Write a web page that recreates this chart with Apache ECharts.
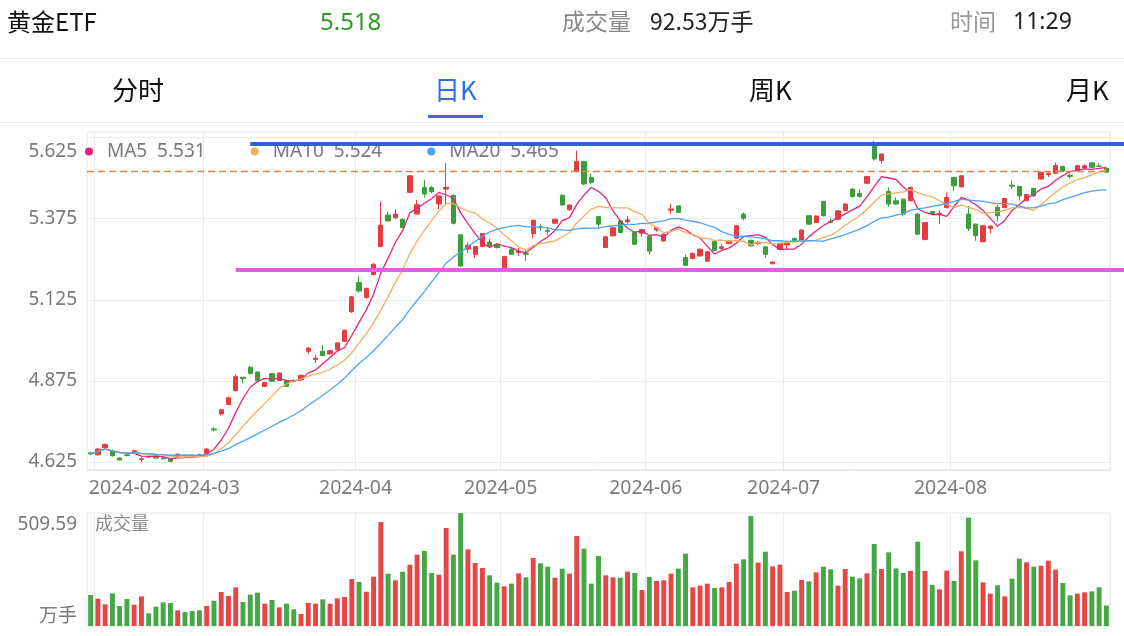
<!DOCTYPE html>
<html><head><meta charset="utf-8">
<script src="https://cdn.jsdelivr.net/npm/echarts@6/dist/echarts.min.js"></script>
<style>html,body{margin:0;padding:0;background:#fff}#c{width:1124px;height:636px}</style>
</head><body><div id="c"></div>
<script>
// ---------- data ----------
const tradingDays = {
  '2024-01': [31],
  '2024-02': [1,2,5,6,7,8,19,20,21,22,23,26,27,28,29],
  '2024-03': [1,4,5,6,7,8,11,12,13,14,15,18,19,20,21,22,25,26,27,28,29],
  '2024-04': [1,2,3,8,9,10,11,12,15,16,17,18,19,22,23,24,25,26,29,30],
  '2024-05': [6,7,8,9,10,13,14,15,16,17,20,21,22,23,24,27,28,29,30,31],
  '2024-06': [3,4,5,6,7,11,12,13,14,17,18,19,20,21,24,25,26,27,28],
  '2024-07': [1,2,3,4,5,8,9,10,11,12,15,16,17,18,19,22,23,24,25,26,29,30,31],
  '2024-08': [1,2,5,6,7,8,9,12,13,14,15,16,19,20,21,22,23,26,27,28,29,30]
};
const opens = [4.653,4.647,4.669,4.659,4.637,4.647,4.652,4.633,4.642,4.639,
 4.637,4.636,4.641,4.646,4.646,4.648,4.652,4.727,4.773,4.802,
 4.845,4.886,4.917,4.902,4.858,4.897,4.876,4.876,4.876,4.878,
 4.966,4.941,4.966,4.958,4.971,4.997,5.088,5.178,5.132,5.203,
 5.289,5.386,5.378,5.373,5.456,5.389,5.471,5.471,5.420,5.466,
 5.447,5.325,5.281,5.265,5.289,5.303,5.296,5.224,5.281,5.270,
 5.268,5.329,5.350,5.339,5.361,5.447,5.402,5.520,5.551,5.502,
 5.381,5.286,5.322,5.368,5.365,5.332,5.330,5.320,5.340,5.306,
 5.401,5.414,5.255,5.252,5.260,5.244,5.304,5.283,5.298,5.315,
 5.389,5.308,5.298,5.288,5.236,5.280,5.294,5.314,5.308,5.384,
 5.363,5.428,5.367,5.373,5.400,5.466,5.453,5.484,5.600,5.554,
 5.459,5.430,5.435,5.430,5.389,5.311,5.397,5.387,5.409,5.502,
 5.473,5.389,5.358,5.304,5.345,5.410,5.409,5.478,5.474,5.430,
 5.468,5.497,5.511,5.515,5.536,5.508,5.523,5.531,5.547,5.537,
 5.530];
const closes = [4.650,4.665,4.679,4.644,4.631,4.645,4.660,4.635,4.640,4.637,
 4.635,4.627,4.649,4.644,4.644,4.645,4.665,4.724,4.786,4.823,
 4.888,4.882,4.898,4.875,4.870,4.874,4.899,4.858,4.873,4.892,
 4.976,4.945,4.953,4.968,4.992,5.031,5.134,5.152,5.160,5.234,
 5.355,5.368,5.389,5.348,5.507,5.418,5.451,5.458,5.445,5.471,
 5.361,5.229,5.293,5.289,5.329,5.291,5.286,5.258,5.265,5.275,
 5.265,5.370,5.347,5.336,5.373,5.417,5.417,5.551,5.482,5.487,
 5.358,5.319,5.347,5.332,5.371,5.296,5.341,5.275,5.347,5.327,
 5.405,5.394,5.231,5.268,5.281,5.273,5.277,5.288,5.306,5.353,
 5.376,5.291,5.302,5.265,5.241,5.298,5.298,5.304,5.340,5.358,
 5.383,5.384,5.363,5.399,5.420,5.443,5.443,5.505,5.559,5.574,
 5.420,5.420,5.389,5.471,5.327,5.363,5.389,5.391,5.440,5.476,
 5.507,5.345,5.322,5.353,5.352,5.384,5.437,5.475,5.445,5.449,
 5.445,5.518,5.515,5.539,5.521,5.505,5.538,5.538,5.533,5.536,
 5.518];
const lows = [4.646,4.645,4.667,4.642,4.629,4.642,4.650,4.625,4.638,4.635,
 4.633,4.626,4.640,4.642,4.643,4.643,4.650,4.719,4.768,4.800,
 4.843,4.867,4.895,4.873,4.856,4.872,4.874,4.856,4.870,4.875,
 4.960,4.930,4.951,4.956,4.969,4.995,5.085,5.147,5.128,5.200,
 5.287,5.366,5.374,5.346,5.454,5.387,5.440,5.453,5.404,5.420,
 5.357,5.226,5.269,5.253,5.287,5.285,5.283,5.222,5.263,5.260,
 5.245,5.314,5.338,5.325,5.359,5.415,5.400,5.518,5.478,5.481,
 5.344,5.284,5.320,5.330,5.360,5.294,5.318,5.265,5.335,5.304,
 5.390,5.392,5.229,5.250,5.258,5.242,5.275,5.276,5.296,5.313,
 5.370,5.289,5.294,5.255,5.234,5.278,5.280,5.302,5.306,5.356,
 5.361,5.382,5.361,5.371,5.398,5.440,5.441,5.482,5.554,5.545,
 5.411,5.418,5.382,5.428,5.325,5.308,5.387,5.358,5.407,5.460,
 5.471,5.337,5.307,5.302,5.330,5.367,5.407,5.466,5.430,5.428,
 5.443,5.495,5.503,5.513,5.519,5.498,5.521,5.529,5.531,5.534,
 5.516];
const highs = [4.656,4.668,4.682,4.663,4.639,4.650,4.662,4.640,4.644,4.641,
 4.640,4.638,4.651,4.648,4.648,4.650,4.668,4.732,4.789,4.826,
 4.894,4.887,4.921,4.905,4.872,4.899,4.901,4.880,4.880,4.895,
 4.978,4.955,4.985,4.970,4.994,5.033,5.137,5.199,5.162,5.238,
 5.428,5.396,5.404,5.376,5.509,5.433,5.495,5.476,5.447,5.546,
 5.450,5.328,5.301,5.291,5.331,5.312,5.299,5.260,5.285,5.284,
 5.280,5.372,5.360,5.350,5.375,5.449,5.419,5.585,5.553,5.514,
 5.383,5.321,5.349,5.370,5.383,5.334,5.344,5.322,5.350,5.329,
 5.420,5.416,5.264,5.270,5.283,5.275,5.306,5.296,5.308,5.355,
 5.394,5.311,5.306,5.290,5.243,5.300,5.300,5.316,5.342,5.386,
 5.385,5.430,5.375,5.401,5.422,5.468,5.466,5.507,5.615,5.576,
 5.471,5.440,5.437,5.473,5.392,5.365,5.399,5.400,5.456,5.504,
 5.509,5.414,5.360,5.355,5.354,5.417,5.439,5.492,5.476,5.451,
 5.470,5.520,5.517,5.548,5.538,5.514,5.540,5.542,5.549,5.545,
 5.532];
const volumes = [139.8,123.2,97.7,147.3,90.2,121.7,96.2,133.8,57.1,87.2,
 106.7,103.7,70.6,63.1,67.6,70.6,90.2,114.2,153.3,135.3,
 174.3,108.2,141.3,150.3,100.7,117.2,84.2,100.7,75.2,54.1,
 103.7,100.7,120.2,100.7,124.7,130.8,211.9,198.4,154.8,222.4,
 468.9,236.0,205.9,245.0,276.6,321.6,338.2,239.0,231.5,441.9,
 321.6,509.59,345.7,284.1,261.5,228.5,195.4,178.9,190.9,237.5,
 219.4,306.6,282.6,267.5,217.9,258.5,236.0,405.8,348.7,190.9,
 315.6,228.5,219.4,217.9,245.0,239.0,162.3,220.9,202.9,205.9,
 236.0,258.5,326.2,174.3,181.9,190.9,171.3,174.3,198.4,281.1,
 300.6,496.0,285.6,335.2,269.0,276.6,153.3,159.3,207.4,201.4,
 242.0,267.5,255.5,181.9,257.0,222.4,214.9,237.5,369.7,257.0,
 332.2,260.0,239.0,248.0,380.3,248.0,184.9,165.3,249.5,202.9,
 336.7,488.5,296.1,196.9,145.8,183.4,133.8,213.4,303.6,287.1,
 267.5,272.0,294.6,254.0,193.9,138.3,145.8,151.8,156.3,174.3,
 92.53];
const priceTicks = [4.625, 4.875, 5.125, 5.375, 5.625];
const maNames = ['MA5', 'MA10', 'MA20'];
const maPeriods = [5, 10, 20];
const maLegendValues = ['5.531', '5.524', '5.465'];
const volumeUnit = '万手';
const lastPrice = 5.518;
const blueLevel = 5.605, blueStart = 22;
const pinkLevel = 5.219, pinkStart = 20;
const quote = { name: '黄金ETF', price: '5.518', volLabel: '成交量', vol: '92.53万手', timeLabel: '时间', time: '11:29' };
const tabs = ['分时', '日K', '周K', '月K'];

// ---------- derived ----------
const dates = [];
Object.keys(tradingDays).forEach(m => tradingDays[m].forEach(d => dates.push(m + '-' + String(d).padStart(2, '0'))));
const lastIdx = dates.length - 1;
const isMonthStart = i => i > 0 && dates[i].slice(0, 7) !== dates[i - 1].slice(0, 7);
const firstMonthIdx = dates.findIndex((d, i) => isMonthStart(i));
function movingAvg(p) {
  return closes.map((c, i) => {
    const s = Math.max(0, i - p + 1); let sum = 0;
    for (let j = s; j <= i; j++) sum += closes[j];
    return +(sum / (i - s + 1)).toFixed(4);
  });
}
const candles = opens.map((o, i) => [o, closes[i], lows[i], highs[i]]);
const volMax = Math.max.apply(null, volumes);

const RED = '#e43d3f', GREEN = '#3a9e3a';
const maColors = ['#e0257d', '#f0b060', '#4da3f5'];
const FONT = "'Noto Sans','Noto Sans CJK SC',sans-serif";
const CJK = "'Noto Sans CJK SC',sans-serif";
const AX = '#7a7a7a';

const chart = echarts.init(document.getElementById('c'), null, { renderer: 'canvas' });

const option = {
  animation: false,
  backgroundColor: '#fff',
  textStyle: { fontFamily: FONT },
  legend: {
    data: maNames, left: 80, top: 137, z: 1, icon: 'circle', itemWidth: 26, itemHeight: 8, itemGap: 45,
    textStyle: { color: AX, fontSize: 19, fontFamily: FONT },
    formatter: n => n + '  ' + maLegendValues[maNames.indexOf(n)]
  },
  grid: [
    { left: 87, right: 14, top: 132, bottom: 166, show: true, borderColor: '#e6e6e6', borderWidth: 1 },
    { left: 87, right: 14, top: 137.5, bottom: 174 },
    { left: 87, right: 14, top: 513, bottom: 10, show: true, borderColor: '#e6e6e6', borderWidth: 1 }
  ],
  xAxis: [
    {
      type: 'category', data: dates, gridIndex: 0, boundaryGap: true,
      axisLine: { show: true, lineStyle: { color: '#e6e6e6' } }, axisTick: { show: false },
      splitLine: { show: true, interval: (i) => isMonthStart(i), lineStyle: { color: '#ececec' } },
      axisLabel: {
        show: true, interval: (i) => isMonthStart(i), margin: 9, color: AX, fontSize: 19.5, fontFamily: FONT,
        formatter: (v, i) => (i === firstMonthIdx ? '{f|' : '{m|') + v.slice(0, 7) + '}',
        rich: {
          f: { padding: [0, 0, 0, 55], color: AX, fontSize: 19.5, fontFamily: FONT },
          m: { padding: [0, 7, 0, 0], color: AX, fontSize: 19.5, fontFamily: FONT }
        }
      }
    },
    { type: 'value', gridIndex: 1, show: false, min: 0, max: 1 },
    {
      type: 'category', data: dates, gridIndex: 2, boundaryGap: true,
      axisLine: { show: false }, axisTick: { show: false }, axisLabel: { show: false },
      splitLine: { show: true, interval: (i) => isMonthStart(i), lineStyle: { color: '#ececec' } }
    }
  ],
  yAxis: [
    { type: 'value', gridIndex: 0, min: 4.6003, max: 5.642, show: false, splitLine: { show: false } },
    {
      type: 'value', gridIndex: 1, min: priceTicks[0], max: priceTicks[priceTicks.length - 1], interval: 0.25,
      axisLine: { show: false }, axisTick: { show: false },
      splitLine: { show: true, lineStyle: { color: '#ececec' } },
      axisLabel: {
        margin: 10, color: AX, fontSize: 19, fontFamily: FONT, showMinLabel: true, showMaxLabel: true,
        formatter: v => (Math.abs(v - priceTicks[priceTicks.length - 1]) < 1e-6 ? '{t|' : '{n|') + v.toFixed(3) + '}',
        rich: {
          t: { padding: [29, 0, 0, 0], color: AX, fontSize: 19, fontFamily: FONT },
          n: { color: AX, fontSize: 19, fontFamily: FONT }
        }
      }
    },
    {
      type: 'value', gridIndex: 2, min: 0, max: volMax, interval: volMax,
      axisLine: { show: false }, axisTick: { show: false }, splitLine: { show: false },
      axisLabel: {
        margin: 10, color: AX, fontSize: 19, fontFamily: FONT, showMinLabel: true, showMaxLabel: true,
        formatter: v => v === 0 ? '{b|' + volumeUnit + '}' : '{t|' + v.toFixed(2) + '}',
        rich: {
          t: { padding: [24, 0, 0, 0], color: AX, fontSize: 19, fontFamily: FONT },
          b: { padding: [0, 0, 22, 0], color: AX, fontSize: 19, fontFamily: CJK }
        }
      }
    }
  ],
  graphic: [
    { type: 'text', left: 7, top: 10, style: { text: quote.name, font: '24px ' + CJK, fill: '#111' } },
    { type: 'text', left: 320, top: 11, style: { text: quote.price, font: '24px ' + FONT, fill: '#2e9b1f' } },
    { type: 'text', left: 562, top: 10, style: { text: quote.volLabel, font: '23px ' + CJK, fill: '#888' } },
    { type: 'text', left: 650, top: 10, style: { text: quote.vol, font: '23px ' + CJK, fill: '#222' } },
    { type: 'text', left: 950, top: 10, style: { text: quote.timeLabel, font: '23px ' + CJK, fill: '#999' } },
    { type: 'text', left: 1013, top: 11, style: { text: quote.time, font: '23px ' + FONT, fill: '#222' } },
    { type: 'rect', left: 0, top: 58, shape: { width: 1124, height: 1 }, style: { fill: '#ebebeb' } },
    { type: 'text', left: 112, top: 77, style: { text: tabs[0], font: '26px ' + CJK, fill: '#111' } },
    { type: 'text', left: 434, top: 77, style: { text: tabs[1], font: '26px ' + CJK, fill: '#2f6fe4' } },
    { type: 'text', left: 749, top: 77, style: { text: tabs[2], font: '26px ' + CJK, fill: '#111' } },
    { type: 'text', left: 1066, top: 77, style: { text: tabs[3], font: '26px ' + CJK, fill: '#111' } },
    { type: 'rect', left: 428, top: 115, shape: { width: 55, height: 3 }, style: { fill: '#2f6fe4' } },
    { type: 'rect', left: 0, top: 122, shape: { width: 1124, height: 1 }, style: { fill: '#ebebeb' } },
    { type: 'text', left: 95, top: 514, style: { text: quote.volLabel, font: '18px ' + CJK, fill: '#8a8a8a' } }
  ],
  series: [
    {
      name: 'K', type: 'candlestick', xAxisIndex: 0, yAxisIndex: 0, data: candles, barWidth: '66%',
      itemStyle: { color: RED, color0: GREEN, borderColor: RED, borderColor0: GREEN, borderWidth: 1 },
      markLine: {
        silent: true, symbol: ['none', 'none'], label: { show: false }, animation: false,
        data: [
          { yAxis: lastPrice, lineStyle: { color: '#e8843d', width: 1.3, type: [7, 4] } }
        ]
      }
    },
    ...maNames.map((n, k) => ({
      name: n, type: 'line', xAxisIndex: 0, yAxisIndex: 0, data: movingAvg(maPeriods[k]),
      showSymbol: false, smooth: false, lineStyle: { color: maColors[k], width: 1.3 },
      itemStyle: { color: maColors[k] }
    })),
    {
      name: 'levels', type: 'line', xAxisIndex: 0, yAxisIndex: 0, data: [], clip: false, z: 5,
      showSymbol: false,
      markLine: {
        silent: true, symbol: ['none', 'none'], label: { show: false }, animation: false,
        data: [
          [{ coord: [dates[blueStart], blueLevel], lineStyle: { color: '#2c62df', width: 4, type: 'solid' } },
           { coord: [dates[lastIdx], blueLevel], x: 1124 }],
          [{ coord: [dates[pinkStart], pinkLevel], lineStyle: { color: '#e95ae9', width: 4, type: 'solid' } },
           { coord: [dates[lastIdx], pinkLevel], x: 1124 }]
        ]
      }
    },
    {
      name: 'VOL', type: 'bar', xAxisIndex: 2, yAxisIndex: 2, data: volumes, barWidth: '68%',
      itemStyle: { color: p => closes[p.dataIndex] >= opens[p.dataIndex] ? '#e64646' : '#45a745' }
    }
  ]
};
chart.setOption(option);
</script>
</body></html>
